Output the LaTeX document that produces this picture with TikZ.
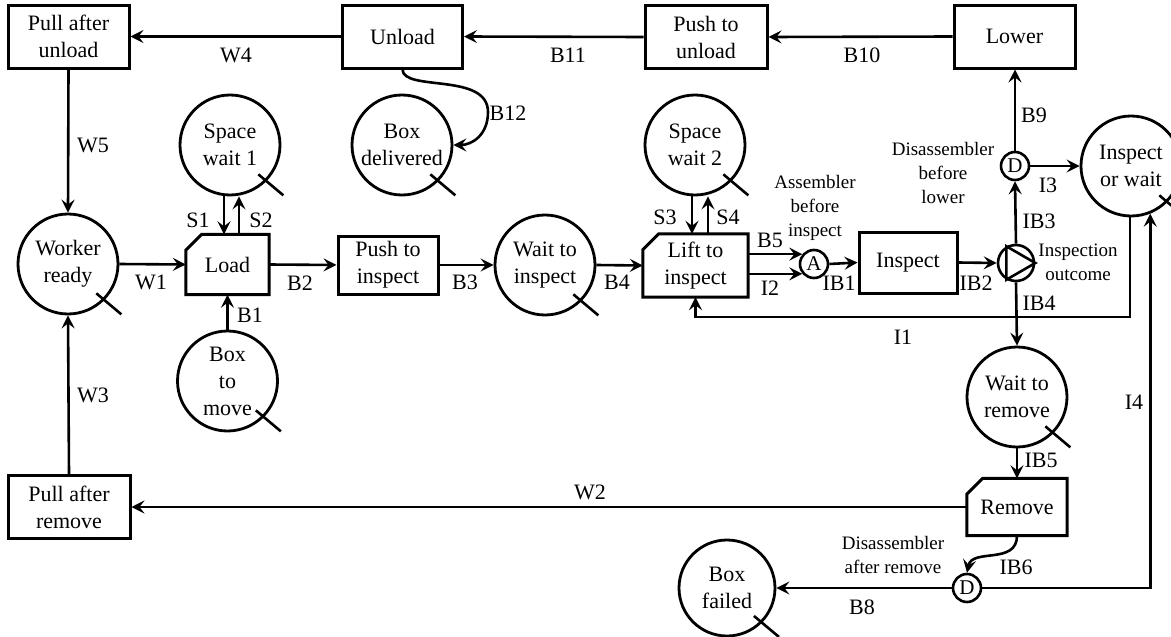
\documentclass[tikz,border=0pt]{standalone}
\usepackage{fontspec}
\setmainfont{Liberation Serif}
\usetikzlibrary{arrows.meta,calc}
\newcommand\tokmark[1]{\draw[line width=2.6pt] ([shift={(-8,-7)}]#1.south east) -- ([shift={(17,14)}]#1.south east);}
\newcommand\cutoutline[1]{\draw[line width=3pt] ([xshift=16pt]#1.north west) -- (#1.north east) -- (#1.south east) -- (#1.south west) -- ([yshift=-16pt]#1.north west) -- cycle;}
\begin{document}
\begin{tikzpicture}[x=1pt,y=-1pt,
  every node/.style={font=\rmfamily\fontsize{22}{27}\selectfont, inner sep=0pt, align=center},
  box/.style={draw, rectangle, line width=3pt, minimum width=#1, minimum height=63pt},
  cutnode/.style={rectangle, minimum width=#1, minimum height=60pt},
  place/.style={draw, circle, line width=2.8pt, minimum size=100pt},
  junction/.style={draw, circle, line width=2.6pt, minimum size=28pt, font=\rmfamily\fontsize{21}{24}\selectfont},
  flow/.style={-{Stealth[length=13pt,width=13pt,inset=5pt]}, line width=2.6pt},
  note/.style={font=\rmfamily\fontsize{19}{24}\selectfont},
]
\useasboundingbox[fill=white] (0,0) rectangle (1171,637);

% top row
\node[box=121pt] (pau) at (68.5,36.5) {Pull after\\unload};
\node[box=120pt] (unload) at (402.5,36.5) {Unload};
\node[box=122pt] (ptu) at (706,37) {Push to\\unload};
\node[box=121pt] (lower) at (1014.5,36.5) {Lower};

% middle row
\node[place] (wr) at (68,264) {Worker\\ready};
\node[place] (sw1) at (230,145) {Space\\wait 1};
\node[cutnode=83pt] (load) at (227.5,264.5) {Load};
\node[place] (btm) at (227.5,381) {Box\\to\\move};
\node[box=100pt, minimum height=58pt] (pti) at (388,265) {Push to\\inspect};
\node[place] (wti) at (545,265) {Wait to\\inspect};
\node[cutnode=105pt, minimum height=63pt] (lift) at (695.5,265.5) {Lift to\\inspect};
\node[place] (sw2) at (695,145) {Space\\wait 2};
\node[place] (bd) at (402,145) {Box\\delivered};
\node[junction] (A) at (814,264) {A};
\node[box=98pt, minimum height=61pt] (insp) at (908,262.5) {Inspect};
\node[circle, draw, line width=2.6pt, minimum size=36pt] (io) at (1016,263) {};
\draw[line width=2.6pt, line join=miter] (io.0) -- (io.120) -- (io.240) -- cycle;
\node[junction] (Dl) at (1015,166) {D};
\node[place] (iow) at (1131,166) {Inspect\\or wait};
\node[place] (wtr) at (1017,397) {Wait to\\remove};
\node[cutnode=100pt, minimum height=57pt] (remove) at (1017,507) {Remove};
\node[box=122pt] (par) at (69,507) {Pull after\\remove};
\node[junction] (Dr) at (967,588) {D};
\node[place, minimum size=96pt] (bf) at (727,588) {Box\\failed};

\cutoutline{load}
\cutoutline{lift}
\cutoutline{remove}
\tokmark{wr}\tokmark{sw1}\tokmark{btm}\tokmark{wti}\tokmark{sw2}\tokmark{bd}
\tokmark{iow}\tokmark{wtr}\tokmark{bf}

% annotations
\node[note] (nA) at (815,208) {Assembler\\before\\inspect};
\node[note] (nDl) at (943,173) {Disassembler\\before\\lower};
\node[note] (nio) at (1078,262) {Inspection\\outcome};
\node[note] (nDr) at (893,555) {Disassembler\\after remove};

% connectors
\draw[flow] (unload.west) -- (pau.east);
\draw[flow] (ptu.west) -- (unload.east);
\draw[flow] (lower.west) -- (ptu.east);
\draw[flow] (pau.south) -- (wr.north);
\draw[flow] (wr.east) -- (load.west);
\draw[flow] ([xshift=-6pt]sw1.south) -- ([xshift=-6pt]sw1.south |- load.north);
\draw[flow] ([xshift=9pt]sw1.south |- load.north) -- ([xshift=9pt]sw1.south);
\draw[flow] (btm.north) -- (btm.north |- load.south);
\draw[flow] (load.east) -- (pti.west);
\draw[flow] (pti.east) -- (wti.west);
\draw[flow] (wti.east) -- (lift.west);
\draw[flow] ([xshift=-3pt]sw2.south) -- ([xshift=-3pt]sw2.south |- lift.north);
\draw[flow] ([xshift=13pt]sw2.south |- lift.north) -- ([xshift=13pt]sw2.south);
\draw[flow] (lift.east |- A.140) -- (A.140);
\draw[flow] (lift.east |- A.220) -- (A.220);
\draw[flow] (A.east) -- (insp.west);
\draw[flow] (insp.east) -- (io.west);
\draw[flow] (io.north) -- (Dl.south);
\draw[flow] (Dl.north) -- (Dl.north |- lower.south);
\draw[flow] (Dl.east) -- (iow.west);
\draw[flow] (io.south) -- (wtr.north);
\coordinate (i1c) at (1130,317);
\draw[flow] (iow.south -| i1c) -- (i1c) -| (lift.south);
\draw[flow] (Dr.east) -| (iow.-68);
\draw[flow] (wtr.south) -- (remove.north);
\draw[flow] (remove.west) -- (par.east);
\draw[flow] (par.north) -- (wr.south);
\draw[flow] (remove.south) .. controls (1017,565) and (972,548) .. (Dr.north);
\draw[flow] (Dr.west) -- (bf.east);
\draw[flow] (unload.south) .. controls (403,92) and (488,72) .. (488,112) .. controls (488,135) and (472,145) .. (bd.east);

% edge labels
\node (lW4) at (236,55) {W4};
\node (lB11) at (568,55) {B11};
\node (lB10) at (862,55) {B10};
\node (lW5) at (93,145) {W5};
\node (lB12) at (508,113) {B12};
\node (lS1) at (198,220) {S1};
\node (lS2) at (261,220) {S2};
\node (lW1) at (151,282) {W1};
\node (lB1) at (250,315) {B1};
\node (lB2) at (300,283) {B2};
\node (lB3) at (465,282) {B3};
\node (lB4) at (617,282) {B4};
\node (lS3) at (665,217) {S3};
\node (lS4) at (728,217) {S4};
\node (lB5) at (770,240) {B5};
\node (lI2) at (770,288) {I2};
\node (lIB1) at (839,283) {IB1};
\node (lIB2) at (976,283) {IB2};
\node (lB9) at (1034,115) {B9};
\node (lI3) at (1048,185) {I3};
\node (lIB3) at (1039,221) {IB3};
\node (lIB4) at (1039,303) {IB4};
\node (lI1) at (903,337) {I1};
\node (lI4) at (1134,402) {I4};
\node (lIB5) at (1041,460) {IB5};
\node (lW3) at (93,395) {W3};
\node (lW2) at (590,492) {W2};
\node (lIB6) at (1016,567) {IB6};
\node (lB8) at (862,607) {B8};
\end{tikzpicture}
\end{document}
